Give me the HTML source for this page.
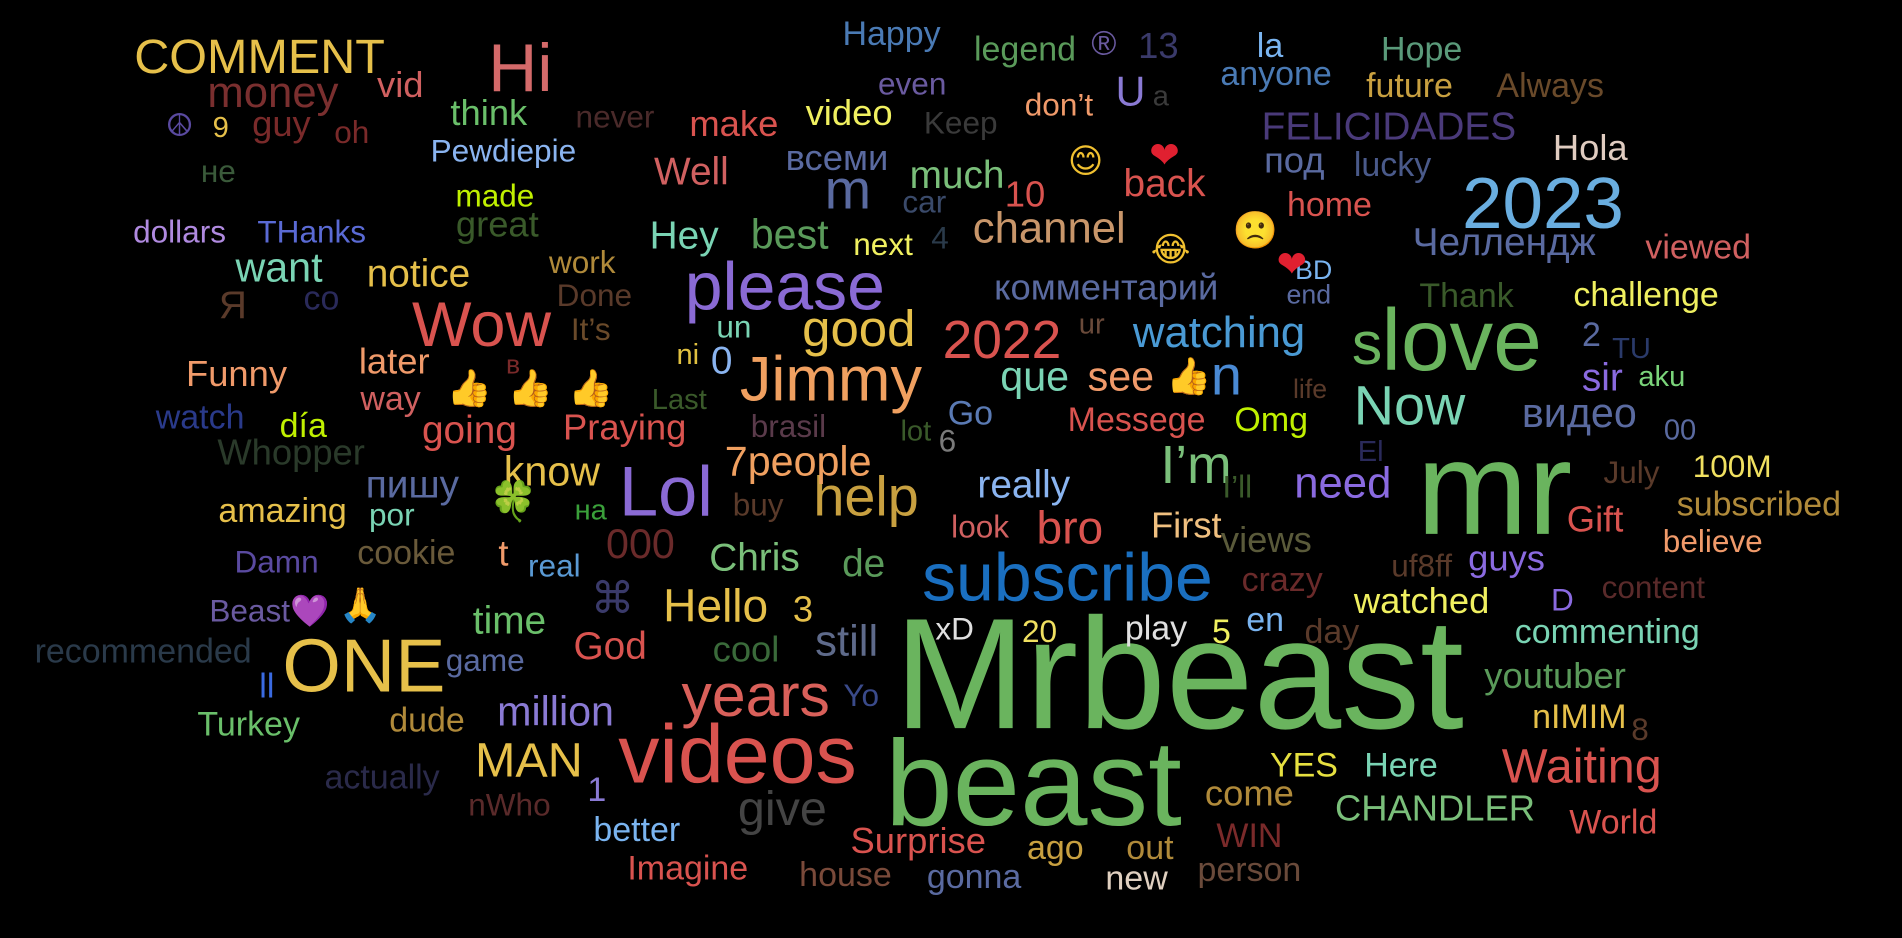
<!DOCTYPE html>
<html><head><meta charset="utf-8">
<style>
html,body{margin:0;padding:0;background:#000;overflow:hidden}
svg{display:block}
text{font-family:"Liberation Sans","DejaVu Sans","Noto Sans CJK SC",sans-serif;}
</style></head>
<body>
<svg id="cloud" width="1902" height="938" viewBox="0 0 1568 773" preserveAspectRatio="none" xmlns="http://www.w3.org/2000/svg">
<rect width="1568" height="773" fill="#000"/>
<g id="words"></g>
</svg>
<script>
const words = ["Mrbeast","beast","mr","love","2023","videos","subscribe","please","Jimmy","ONE","Hi","Wow","Lol","years","help","good","Now","2022","n","I’m","m","Hello","3","watching","s","COMMENT","money","bro","channel","Waiting","give","MAN","million","still","7people","know","notice","want","Hey","best","much","back","10","really","need","sir","видео","Челлендж","комментарий","FELICIDADES","под","Hola","lucky","home","viewed","challenge","Thank","BD","end","2","TU","aku","00","100M","July","subscribed","Gift","believe","content","D","commenting","youtuber","nIMIM","8","World","CHANDLER","Here","YES","come","WIN","person","out","new","ago","Surprise","house","gonna","Imagine","better","1","nWho","actually","Yo","dude","Turkey","ll","recommended","game","God","cool","time","Beast💜","🙏","⌘","xD","20","play","5","en","day","watched","guys","uf8ff","crazy","views","First","I’ll","El","life","Omg","Messege","Go","6","lot","que","see","👍","ur","un","ni","0","Last","brasil","buy","look","de","Chris","000","real","t","на","🍀","cookie","Damn","por","amazing","пишу","Whopper","going","Praying","día","watch","Funny","later","way","в","👍","👍","👍","It’s","Done","work","co","Я","dollars","THanks","great","made","не","Pewdiepie","think","oh","guy","9","☮","vid","never","make","Well","всеми","video","Keep","car","4","next","even","Happy","legend","®","13","U","a","don’t","😊","❤","😂","🙁","❤","la","anyone","Hope","future","Always"];
const sizes = [130,100,110,72,60,68,56,56,52,62,56,52,58,50,46,42,46,44,46,44,46,38,30,36,50,
40,36,38,36,40,40,40,34,36,34,34,32,34,32,34,32,32,30,32,36,32,34,32,30,32,30,30,28,28,28,
28,28,22,22,28,24,24,24,26,26,28,30,26,26,26,28,30,28,26,28,30,28,28,30,28,28,28,28,28,30,
28,28,28,28,28,26,28,26,28,28,28,28,26,32,30,32,26,28,36,26,26,28,28,28,28,30,30,26,28,30,
30,26,24,22,28,28,28,26,24,34,34,30,24,26,24,32,24,26,26,26,32,32,34,26,30,24,32,28,26,26,
28,32,30,32,30,28,28,30,30,28,22,30,30,30,26,26,26,28,32,26,26,30,26,26,
26,30,26,30,24,26,30,26,30,32,30,30,26,26,26,26,26,28,28,28,30,34,24,26,28,30,28,30,30,28,28,28,28,28];
const colors = ["#6ab45e","#6ab45e","#6ab45e","#6ab45e","#6aaee0","#d9534f","#1a6fc0","#8a6ad4","#f0a060","#e6c04a","#d46a6a","#d9534f","#8a6ad4","#d9605a","#c8a040","#e6c04a","#7ad4b4","#d9534f","#4a8ad4","#7abf7a","#5a6aa0","#e6c04a","#e6c04a","#4a9ad4","#6ab45e","#e6c04a","#7a2f2f","#d9534f","#c8966a","#d9534f","#444444","#e6c04a","#8a7ad4","#5e6a8a","#f0a060","#e6c04a","#e6c04a","#7ad4b4","#7ad4b4","#5a9a5a","#7abf7a","#d9534f","#d9534f","#8ab4f0","#8a6ae0","#8a6ae0","#5a6aa0","#5a6aa0","#5a6aa0","#4a3a7a","#5a6aa0","#e0ccc0","#4a5a8a","#d9534f","#d06060","#f0f060","#3a5a2a","#7ab4f0","#5a6aa0","#5a6aa0","#2a3a6a","#7ad47a","#5a6aa0","#f0e060","#5a3a2a","#b08a3a","#d9534f","#f09a6a","#5a2a2a","#8a6ae0","#7ad4b4","#5a9a5a","#e6c04a","#5a3a2a","#d9534f","#7abf7a","#7ad4b4","#e6e040","#b08a3a","#7a2a2a","#6a4a3a","#b08a3a","#e0d0c0","#c8a040","#d9534f","#7a4a3a","#5a6aa0","#d9534f","#7ab4f0","#8a7ad4","#5a2a2a","#2a2a4a","#3a4a8a","#b08a3a","#6abf6a","#3a6ae0","#2a3a4a","#5a6aa0","#d9534f","#3a6a3a","#6abf6a","#6a5aa0","#f0c8a0","#3a3a6a","#e0e0e0","#f0e060","#e0e0e0","#f0f060","#7ab4f0","#5a3a2a","#f0f060","#8a6ae0","#5a3a2a","#6a2a2a","#5a5a3a","#f0c080","#3a5a2a","#2a2a5a","#5a3a2a","#c0f000","#d9534f","#5a7ab4","#7a7a7a","#3a5a2a","#7ad4b4","#f09a6a","#e0b030","#6a4a3a","#7ad4b4","#e0c040","#8ab4f0","#3a5a2a","#5a3a4a","#5a3a2a","#d06060","#5a9a5a","#7abf7a","#6a2a2a","#5a9ad4","#f09a6a","#3aa03a","#3aa03a","#6a5a3a","#5a4aa0","#7ad4b4","#e6c04a","#5a6aa0","#2a3a2a","#d9534f","#d9534f","#c0f000","#2a3a8a","#f09a6a","#f09a6a","#d06060","#7a2a2a","#f0c8a0","#f0c8a0","#f0c8a0","#6a4a2a","#5a3a2a","#b08a3a","#2a2a5a","#5a3a2a","#b08ae0","#5a6ad4","#3a5a2a","#c0f000","#3a5a3a","#8ab4f0","#6abf6a","#7a2a2a","#7a2a2a","#e6c04a","#5a4aa0","#d06060","#4a2a2a","#d9534f","#d06060","#5a6aa0","#f0f060","#3a3a3a","#3a4a6a","#2a3a4a","#f0f060","#6a5aa0","#4a7ab4","#5a9a5a","#6a5aa0","#3a3a6a","#8a7ad4","#3a3a3a","#f09a6a","#f0c030","#e02030","#f0c030","#f0c030","#e02030","#7ab4f0","#4a7ab4","#5a9a7a","#c8a040","#6a4a2a"];
const xs = [972,852,1232,1205,1272,608,880,647,685,300,429,397,549,623,714,708,1162,826,1011,986,699,590,662,1005,1127,214,225,882,865,1304,645,436,458,698,658,455,345,230,564,651,789,960,845,844,1107,1321,1302,1240,912,1145,1067,1311,1148,1096,1400,1357,1209,1083,1079,1312,1345,1370,1385,1428,1345,1450,1315,1412,1363,1288,1325,1282,1302,1352,1330,1183,1155,1075,1030,1030,1030,948,937,870,757,697,803,567,525,492,420,315,710,352,205,220,118,400,503,615,420,222,297,505,787,857,953,1007,1043,1098,1172,1242,1172,1057,1044,978,1020,1130,1080,1048,937,800,781,755,853,924,980,900,605,567,595,560,650,625,808,712,622,528,457,415,487,423,335,228,323,233,340,240,387,515,250,165,195,325,322,423,387,437,487,487,490,480,265,192,148,257,410,408,180,415,403,290,232,182,148,330,507,605,570,690,700,792,762,775,728,752,735,845,910,955,932,957,873,895,960,965,1035,1065,1047,1052,1172,1162,1278];
const ys = [600,680,440,305,188,645,495,255,330,570,75,285,425,590,425,285,350,295,325,398,172,512,512,286,300,60,88,448,200,645,680,640,598,540,392,400,236,232,205,205,155,162,170,410,410,322,352,210,247,115,142,132,145,178,213,252,253,230,250,285,295,318,362,393,398,425,438,455,493,503,530,567,600,610,687,676,640,640,664,698,726,708,733,708,703,730,732,725,693,660,672,650,582,603,606,575,546,553,543,545,522,512,508,505,527,529,527,530,520,530,505,470,475,487,455,443,410,380,328,355,355,350,372,363,322,322,320,275,278,300,308,337,360,425,443,475,470,460,475,466,428,424,465,472,433,430,410,383,365,362,360,353,318,308,338,308,330,330,330,280,252,225,255,262,200,200,195,170,150,133,103,118,112,113,112,80,105,112,152,140,103,110,175,205,210,78,37,50,45,48,87,87,95,142,138,215,200,228,47,70,50,80,80];
const g = document.getElementById('words');
const NS = 'http://www.w3.org/2000/svg';
for (let i = 0; i < words.length; i++) {
  const t = document.createElementNS(NS, 'text');
  t.setAttribute('x', xs[i]);
  t.setAttribute('y', ys[i]);
  t.setAttribute('font-size', sizes[i] !== undefined ? sizes[i] : 28);
  t.setAttribute('fill', colors[i]);
  t.setAttribute('text-anchor', 'middle');
  
  
  t.textContent = words[i];
  g.appendChild(t);
}
</script>
</body></html>
